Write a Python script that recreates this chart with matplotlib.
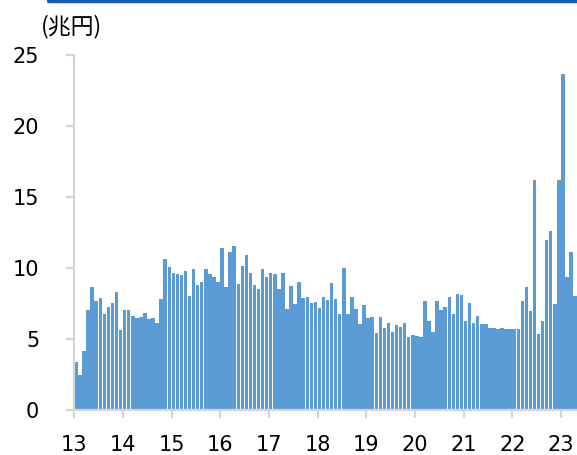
import numpy as np
import matplotlib.pyplot as plt
from matplotlib.lines import Line2D

# monthly values, Jan 2013 - Apr 2023 (兆円)
y2013 = [3.38, 2.43, 4.12, 7.06, 8.66, 7.67, 7.84, 6.71, 7.27, 7.53, 8.33, 5.63]
y2014 = [7.04, 7.04, 6.59, 6.47, 6.54, 6.85, 6.40, 6.47, 6.10, 7.82, 10.64, 10.08]
y2015 = [9.67, 9.56, 9.49, 9.77, 8.00, 9.93, 8.76, 8.99, 9.93, 9.53, 9.32, 8.97]
y2016 = [11.42, 8.62, 11.13, 11.56, 8.87, 10.12, 10.90, 9.63, 8.76, 8.52, 9.93, 9.37]
y2017 = [9.67, 9.53, 8.52, 9.67, 7.13, 8.69, 7.42, 8.97, 7.89, 7.93, 7.53, 7.56]
y2018 = [7.20, 7.93, 7.72, 8.95, 7.79, 6.73, 9.98, 6.73, 7.91, 7.09, 6.03, 7.35]
y2019 = [6.48, 6.52, 5.42, 6.50, 5.79, 6.09, 5.51, 5.99, 5.82, 6.08, 5.11, 5.23]
y2020 = [5.16, 5.11, 7.63, 6.28, 5.46, 7.67, 7.04, 7.21, 7.91, 6.71, 8.17, 8.07]
y2021 = [6.27, 7.54, 6.08, 6.57, 6.03, 6.03, 5.79, 5.77, 5.72, 5.77, 5.72, 5.72]
y2022 = [5.72, 5.67, 7.66, 8.64, 6.95, 16.20, 5.35, 6.24, 11.93, 12.57, 7.46, 16.17]
y2023 = [23.69, 9.35, 11.09, 7.98]

values = y2013 + y2014 + y2015 + y2016 + y2017 + y2018 + y2019 + y2020 + y2021 + y2022 + y2023
year_labels = ['13', '14', '15', '16', '17', '18', '19', '20', '21', '22', '23']
y_ticks = [0, 5, 10, 15, 20, 25]

W, H = 577, 455
fig = plt.figure(figsize=(W / 100, H / 100), dpi=100)
ax = fig.add_axes([74 / W, (H - 409.7) / H, (W - 74) / W, (409.7 - 55) / H])

x = np.arange(len(values))
ax.bar(x, values, width=0.86, align='edge', color='#5B9BD5', edgecolor='none')

ax.set_xlim(-0.05, len(values) - 0.1)
ax.set_ylim(0, 25)
ax.set_xticks(np.arange(len(year_labels)) * 12)
ax.set_xticklabels(year_labels)
ax.set_yticks(y_ticks)

for s in ['top', 'right']:
    ax.spines[s].set_visible(False)
for s in ['left', 'bottom']:
    ax.spines[s].set_color('#D4D4D4')
    ax.spines[s].set_linewidth(1.6)
ax.tick_params(axis='both', colors='#D4D4D4', width=1.6, length=6,
               labelcolor='black', labelsize=15)
ax.tick_params(axis='y', pad=19)
ax.tick_params(axis='x', pad=12)

fig.text(41 / W, (H - 27) / H, '(兆円)', fontsize=16.5, va='center', ha='left',
         family=['Noto Sans CJK JP', 'DejaVu Sans'])

# dark blue header rule at the top
fig.add_artist(Line2D([49 / W, 1.0], [1 - 1.0 / H, 1 - 1.0 / H], color='#1A5BA6',
                      lw=3.2, solid_capstyle='round', transform=fig.transFigure))

fig.savefig('out.png', dpi=100)
